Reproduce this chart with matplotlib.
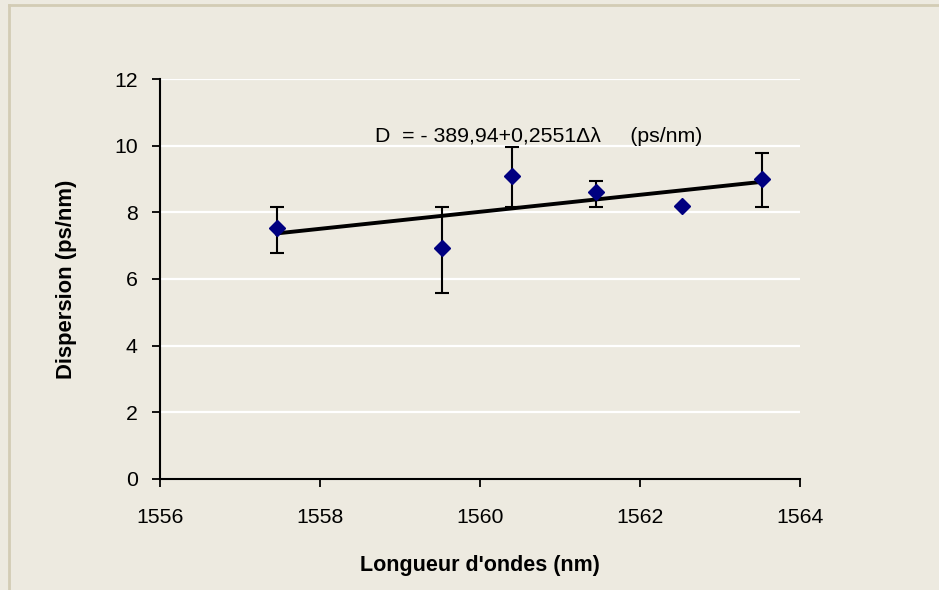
import matplotlib
matplotlib.use("Agg")
import matplotlib.pyplot as plt
from matplotlib.lines import Line2D

wavelength = [1557.46, 1559.53, 1560.40, 1561.45, 1562.53, 1563.52]
dispersion = [7.52, 6.92, 9.10, 8.60, 8.19, 8.99]
err_low = [0.75, 1.33, 0.95, 0.45, 0.0, 0.84]
err_high = [0.63, 1.23, 0.85, 0.34, 0.0, 0.78]
fit_intercept = -389.94
fit_slope = 0.2551
x_ticks = [1556, 1558, 1560, 1562, 1564]
y_ticks = [0, 2, 4, 6, 8, 10, 12]

plt.rcParams['font.family'] = ['Liberation Sans', 'DejaVu Sans']

W, H = 939, 590
fig = plt.figure(figsize=(W / 100, H / 100), dpi=100, facecolor='#EDEAE0')
ax = fig.add_axes([160 / W, 1 - 479 / H, 640 / W, 400 / H])
ax.set_facecolor('#EDEAE0')

# outer frame lines
fig.add_artist(Line2D([8.5 / W, 8.5 / W], [0, 1 - 5 / H], transform=fig.transFigure,
                      color='#D3CCB5', lw=2))
fig.add_artist(Line2D([8.5 / W, 1], [1 - 5 / H, 1 - 5 / H], transform=fig.transFigure,
                      color='#D3CCB5', lw=2))

ax.set_xlim(1556, 1564)
ax.set_ylim(0, 12)
ax.set_xticks(x_ticks)
ax.set_yticks(y_ticks)
ax.set_xticklabels([str(v) for v in x_ticks])
ax.set_yticklabels([str(v) for v in y_ticks])
ax.grid(axis='y', color='white', lw=1.6)
ax.set_axisbelow(True)
for s in ['top', 'right']:
    ax.spines[s].set_visible(False)
for s in ['left', 'bottom']:
    ax.spines[s].set_linewidth(1.5)
    ax.spines[s].set_color('black')
ax.tick_params(axis='both', direction='out', length=6, width=1.3, labelsize=15.3, colors='black')
ax.tick_params(axis='x', pad=15)
ax.tick_params(axis='y', pad=10)

# trend line
xs = [wavelength[0], wavelength[-1]]
ys = [fit_intercept + fit_slope * x for x in xs]
ax.plot(xs, ys, color='black', lw=2.8, zorder=3)

# error bars
ax.errorbar(wavelength, dispersion, yerr=[err_low, err_high], fmt='none', ecolor='black',
            elinewidth=1.5, capsize=4.7, capthick=1.5, zorder=4)
ax.plot(wavelength, dispersion, linestyle='none', marker='D', markersize=8,
        color='#000080', zorder=5)

ax.text(1558.69, 10.27, 'D  = - 389,94+0,2551\u0394\u03bb     (ps/nm)', fontsize=15.3,
        ha='left', va='center', color='black')

ax.set_xlabel("Longueur d'ondes (nm)", fontsize=15.5, fontweight='bold', labelpad=20)
ax.set_ylabel('Dispersion (ps/nm)', fontsize=15.8, fontweight='bold', labelpad=27)

fig.savefig('out.png', dpi=100, facecolor=fig.get_facecolor())
